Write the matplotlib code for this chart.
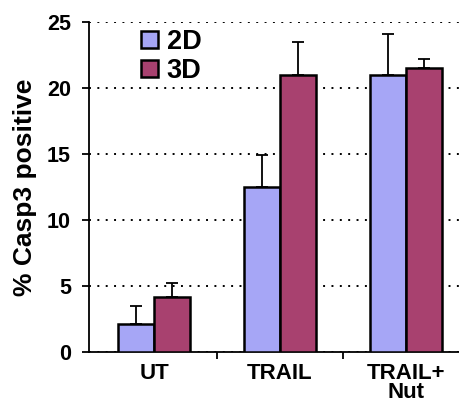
import matplotlib
matplotlib.use("Agg")
import matplotlib.pyplot as plt
import numpy as np

categories = ["UT", "TRAIL", "TRAIL+\nNut"]
series_names = ["2D", "3D"]
values_2d = [2.1, 12.5, 21.0]
values_3d = [4.2, 21.0, 21.5]
err_2d = [1.4, 2.4, 3.1]
err_3d = [1.0, 2.5, 0.7]
yticks = [0, 5, 10, 15, 20, 25]

plt.rcParams['font.family'] = ['Liberation Sans', 'DejaVu Sans']
plt.rcParams['font.weight'] = 'bold'

W, H = 460, 407
fig = plt.figure(figsize=(W/100, H/100), dpi=100)
left_px, right_px = 89, 469
bottom_px, top_px = 55, 385
ax = fig.add_axes([left_px/W, bottom_px/H, (right_px-left_px)/W, (top_px-bottom_px)/H])

x = np.arange(len(categories))
bw = 0.286
c2d = '#A6A6F6'
c3d = '#A8416F'
ekw = dict(ecolor='black', elinewidth=1.3, capsize=4.5, capthick=1.3)
ax.bar(x - bw/2, values_2d, bw, color=c2d, edgecolor='black', linewidth=1.8,
       yerr=[np.zeros(3), err_2d], error_kw=ekw, label=series_names[0], zorder=3)
ax.bar(x + bw/2, values_3d, bw, color=c3d, edgecolor='black', linewidth=1.8,
       yerr=[np.zeros(3), err_3d], error_kw=ekw, label=series_names[1], zorder=3)

ax.set_xlim(-0.516, 2.5)
ax.set_ylim(0, 25)
ax.set_yticks(yticks)
ax.set_yticklabels([str(t) for t in yticks], fontsize=15.5, fontweight='bold')
ax.yaxis.grid(True, linestyle=(0, (1.0, 3.3)), color='black', linewidth=1.4, zorder=0)
ax.set_axisbelow(True)

ax.set_xticks([0.5, 1.5])
ax.set_xticklabels([])
ax.tick_params(axis='x', length=5, width=1.3, direction='out')
ax.tick_params(axis='y', length=5, width=1.3, direction='out', pad=8)
for i, c in enumerate(categories):
    ax.text(i, -0.8, c, ha='center', va='top', fontsize=16, fontweight='bold',
            linespacing=0.88)

ax.spines['top'].set_visible(False)
ax.spines['right'].set_visible(False)
ax.spines['left'].set_linewidth(1.3)
ax.spines['bottom'].set_linewidth(1.3)

ax.set_ylabel("% Casp3 positive", fontsize=19, fontweight='bold', labelpad=7)

leg = ax.legend(loc='upper left', bbox_to_anchor=(141/W, (H-29)/H),
                bbox_transform=fig.transFigure, frameon=False, fontsize=19.5,
                handlelength=0.62, handleheight=0.62, handletextpad=0.33,
                labelspacing=0.12, borderaxespad=0, borderpad=0)
for p in leg.get_patches():
    p.set_linewidth(1.8)

fig.savefig("out.png", dpi=100)
